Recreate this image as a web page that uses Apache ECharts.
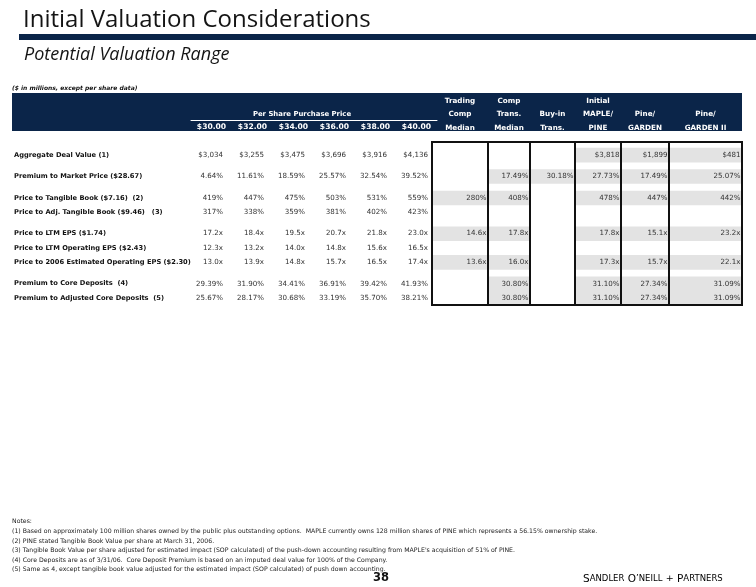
<!DOCTYPE html>
<html><head><meta charset="utf-8">
<script src="https://cdn.jsdelivr.net/npm/echarts@6/dist/echarts.min.js"></script>
<style>html,body{margin:0;padding:0;background:#fff}#c{width:756px;height:587px}</style>
</head><body><div id="c"></div>
<script>
// ---------- data ----------
const priceHeaders = ['$30.00', '$32.00', '$34.00', '$36.00', '$38.00', '$40.00'];
const compHeaders = ['Trading\nComp\nMedian', 'Comp\nTrans.\nMedian', 'Buy-in\nTrans.', 'Initial\nMAPLE/\nPINE', 'Pine/\nGARDEN', 'Pine/\nGARDEN II'];
const rowLabels = [
  'Aggregate Deal Value (1)',
  'Premium to Market Price ($28.67)',
  'Price to Tangible Book ($7.16)  (2)',
  'Price to Adj. Tangible Book ($9.46)   (3)',
  'Price to LTM EPS ($1.74)',
  'Price to LTM Operating EPS ($2.43)',
  'Price to 2006 Estimated Operating EPS ($2.30)',
  'Premium to Core Deposits  (4)',
  'Premium to Adjusted Core Deposits  (5)'
];
const rowFormats = ['usd', 'pct2', 'pct0', 'pct0', 'mult', 'mult', 'mult', 'pct2', 'pct2'];
const rowGroups = [1, 1, 2, 3, 2];

const dealValue        = [3034, 3255, 3475, 3696, 3916, 4136];
const premiumMarket    = [4.64, 11.61, 18.59, 25.57, 32.54, 39.52];
const priceTangible    = [419, 447, 475, 503, 531, 559];
const priceAdjTangible = [317, 338, 359, 381, 402, 423];
const priceLtmEps      = [17.2, 18.4, 19.5, 20.7, 21.8, 23.0];
const priceLtmOpEps    = [12.3, 13.2, 14.0, 14.8, 15.6, 16.5];
const price2006Eps     = [13.0, 13.9, 14.8, 15.7, 16.5, 17.4];
const premiumCore      = [29.39, 31.90, 34.41, 36.91, 39.42, 41.93];
const premiumAdjCore   = [25.67, 28.17, 30.68, 33.19, 35.70, 38.21];

const dealValueComps        = [null, null, null, 3818, 1899, 481];
const premiumMarketComps    = [null, 17.49, 30.18, 27.73, 17.49, 25.07];
const priceTangibleComps    = [280, 408, null, 478, 447, 442];
const priceAdjTangibleComps = [null, null, null, null, null, null];
const priceLtmEpsComps      = [14.6, 17.8, null, 17.8, 15.1, 23.2];
const priceLtmOpEpsComps    = [null, null, null, null, null, null];
const price2006EpsComps     = [13.6, 16.0, null, 17.3, 15.7, 22.1];
const premiumCoreComps      = [null, 30.80, null, 31.10, 27.34, 31.09];
const premiumAdjCoreComps   = [null, 30.80, null, 31.10, 27.34, 31.09];

const priceValues = [dealValue, premiumMarket, priceTangible, priceAdjTangible, priceLtmEps, priceLtmOpEps, price2006Eps, premiumCore, premiumAdjCore];
const compValues = [dealValueComps, premiumMarketComps, priceTangibleComps, priceAdjTangibleComps, priceLtmEpsComps, priceLtmOpEpsComps, price2006EpsComps, premiumCoreComps, premiumAdjCoreComps];

const footnotes = [
  'Notes:',
  '(1) Based on approximately 100 million shares owned by the public plus outstanding options.  MAPLE currently owns 128 million shares of PINE which represents a 56.15% ownership stake.',
  '(2) PINE stated Tangible Book Value per share at March 31, 2006.',
  '(3) Tangible Book Value per share adjusted for estimated impact (SOP calculated) of the push-down accounting resulting from MAPLE\'s acquisition of 51% of PINE.',
  '(4) Core Deposits are as of 3/31/06.  Core Deposit Premium is based on an imputed deal value for 100% of the Company.',
  '(5) Same as 4, except tangible book value adjusted for the estimated impact (SOP calculated) of push down accounting.'
];

// ---------- layout (not data) ----------
const compColWidths = [56, 42, 45, 46, 48, 73];
const compTotal = compColWidths.reduce((a, b) => a + b, 0);
const compCenters = [];
(function () { let acc = 0; compColWidths.forEach(w => { compCenters.push(acc + w / 2); acc += w; }); })();

const SLOT_H = 7.15;
const GRID_TOP = 151.4;
const TABLE_FONT = 'DejaVu Sans';
const NAVY = '#0b2549';

// ---------- helpers ----------
function fmt(v, f) {
  if (v === null || v === undefined) return '';
  if (f === 'usd') return '$' + v.toLocaleString('en-US');
  if (f === 'pct2') return v.toFixed(2) + '%';
  if (f === 'pct0') return v.toFixed(0) + '%';
  if (f === 'mult') return v.toFixed(1) + 'x';
  return String(v);
}
// slot layout: 2 slots per row inside a group, 3 between groups
const rowSlot = [];
let s = 0;
rowGroups.forEach(n => {
  for (let k = 0; k < n; k++) { rowSlot.push(s); s += 2; }
  s += 1;
});
const slotCount = rowSlot[rowSlot.length - 1] + 1;
const GRID_H = SLOT_H * slotCount;
const slotLabel = new Array(slotCount).fill('');
rowSlot.forEach((sl, r) => slotLabel[sl] = rowLabels[r]);
const slotNames = slotLabel.map((_, i) => String(i));

const priceData = [];
const compData = [];
rowLabels.forEach((_, r) => {
  for (let c = 0; c < 6; c++) {
    priceData.push([c, rowSlot[r], r]);
    compData.push([compCenters[c], rowSlot[r], r, c]);
  }
});
const boxData = compHeaders.map((_, c) => [compCenters[c], 0, c]);

const chart = echarts.init(document.getElementById('c'), null, { renderer: 'canvas' });

const yBase = {
  type: 'category', data: slotNames, inverse: true,
  axisLine: { show: false }, axisTick: { show: false }, splitLine: { show: false }
};

chart.setOption({
  animation: false,
  backgroundColor: '#fff',
  title: [
    { text: 'Initial Valuation Considerations', left: 18, top: 3,
      textStyle: { fontFamily: 'Open Sans', fontSize: 24, fontWeight: 'normal', color: '#141414' } },
    { text: 'Potential Valuation Range', left: 19, top: 41,
      textStyle: { fontFamily: 'Open Sans', fontSize: 18, fontStyle: 'italic', fontWeight: 'normal', color: '#141414' } }
  ],
  grid: [
    { left: 191, top: GRID_TOP, width: 246, height: GRID_H },
    { left: 432, top: GRID_TOP, width: compTotal, height: GRID_H }
  ],
  xAxis: [
    { gridIndex: 0, type: 'category', data: priceHeaders, position: 'top', offset: GRID_TOP - 120,
      axisLine: { show: true, lineStyle: { color: '#fff', width: 1 } }, axisTick: { show: false },
      axisLabel: { inside: true, margin: 3, color: '#fff', fontFamily: TABLE_FONT, fontWeight: 'bold', fontSize: 7.6 },
      name: 'Per Share Purchase Price', nameLocation: 'middle', nameGap: 2,
      nameTextStyle: { color: '#fff', fontFamily: TABLE_FONT, fontWeight: 'bold', fontSize: 6.9, padding: [0, 24, 0, 0] } },
    { gridIndex: 1, type: 'value', min: 0, max: compTotal, position: 'top', offset: GRID_TOP - 134.5,
      axisLine: { show: false }, axisTick: { show: false }, splitLine: { show: false },
      axisLabel: { margin: 0, customValues: compCenters, color: '#fff', fontFamily: TABLE_FONT, fontWeight: 'bold',
        fontSize: 7.2, lineHeight: 13.5, align: 'center',
        formatter: v => { const i = compCenters.findIndex(c => Math.abs(c - v) < 0.01); return i >= 0 ? compHeaders[i] : ''; } } }
  ],
  yAxis: [
    Object.assign({}, yBase, { gridIndex: 0,
      axisLabel: { show: true, interval: 0, align: 'left', margin: 177, color: '#111',
        fontFamily: TABLE_FONT, fontWeight: 'bold', fontSize: 6.7,
        formatter: v => slotLabel[+v] } }),
    Object.assign({}, yBase, { gridIndex: 1, axisLabel: { show: false } })
  ],
  graphic: [
    { type: 'rect', shape: { x: 19, y: 34, width: 737, height: 6 }, style: { fill: NAVY }, z: 1 },
    { type: 'rect', shape: { x: 12, y: 93, width: 730, height: 38 }, style: { fill: NAVY }, z: -10 },
    { type: 'text', x: 12, y: 88, style: { text: '($ in millions, except per share data)', font: 'italic bold 6px "DejaVu Sans"', fill: '#111', verticalAlign: 'middle' } },
    { type: 'text', x: 12, y: 517, style: { text: footnotes.join('\n'), font: '6.2px "DejaVu Sans"', lineHeight: 9.6, fill: '#1a1a1a', verticalAlign: 'top' } },
    { type: 'text', x: 373, y: 578, style: { text: '38', font: 'bold 11.5px "DejaVu Sans"', fill: '#111', verticalAlign: 'middle' } },
    { type: 'text', x: 583, y: 579, style: {
        text: '{b|S}{s|ANDLER} {b|O}{s|\u2019NEILL} {p|+} {b|P}{s|ARTNERS}',
        verticalAlign: 'middle',
        rich: {
          b: { fontFamily: 'DejaVu Sans', fontSize: 10.5, color: '#858585' },
          s: { fontFamily: 'DejaVu Sans', fontSize: 8.5, color: '#858585' },
          p: { fontFamily: 'DejaVu Sans', fontSize: 9.5, color: '#c8a34a' }
        } } }
  ],
  series: [
    { type: 'custom', xAxisIndex: 0, yAxisIndex: 0, data: priceData, silent: true,
      renderItem: (params, api) => {
        const c = api.coord([api.value(0), api.value(1)]);
        const sz = api.size([1, 1]);
        const r = api.value(2), col = api.value(0);
        return { type: 'text', style: {
          text: fmt(priceValues[r][col], rowFormats[r]), x: c[0] + sz[0] / 2 - 9, y: c[1],
          align: 'right', verticalAlign: 'middle', font: '7.1px "DejaVu Sans"', fill: '#333' } };
      } },
    { type: 'custom', xAxisIndex: 1, yAxisIndex: 1, data: compData, silent: true, z: 2,
      renderItem: (params, api) => {
        const c = api.coord([api.value(0), api.value(1)]);
        const r = api.value(2), col = api.value(3);
        const w = api.size([compColWidths[col], 0])[0];
        const txt = fmt(compValues[r][col], rowFormats[r]);
        const children = [];
        if (txt) {
          children.push({ type: 'rect', shape: { x: c[0] - w / 2, y: c[1] - 7.2, width: w, height: 14.6 },
            style: { fill: '#e3e3e3' } });
          children.push({ type: 'text', style: { text: txt, x: c[0] + w / 2 - 1.5, y: c[1],
            align: 'right', verticalAlign: 'middle', font: '7.1px "DejaVu Sans"', fill: '#333' } });
        }
        return { type: 'group', children };
      } },
    { type: 'custom', xAxisIndex: 1, yAxisIndex: 1, data: boxData, silent: true, z: 5,
      renderItem: (params, api) => {
        const col = api.value(2);
        const top = api.coord([api.value(0), 0]);
        const bot = api.coord([api.value(0), slotCount - 1]);
        const w = api.size([compColWidths[col], 0])[0];
        return { type: 'rect', shape: { x: top[0] - w / 2, y: top[1] - 13, width: w, height: bot[1] - top[1] + 20 },
          style: { fill: 'none', stroke: '#111', lineWidth: 2 } };
      } }
  ]
});
</script>
</body></html>
